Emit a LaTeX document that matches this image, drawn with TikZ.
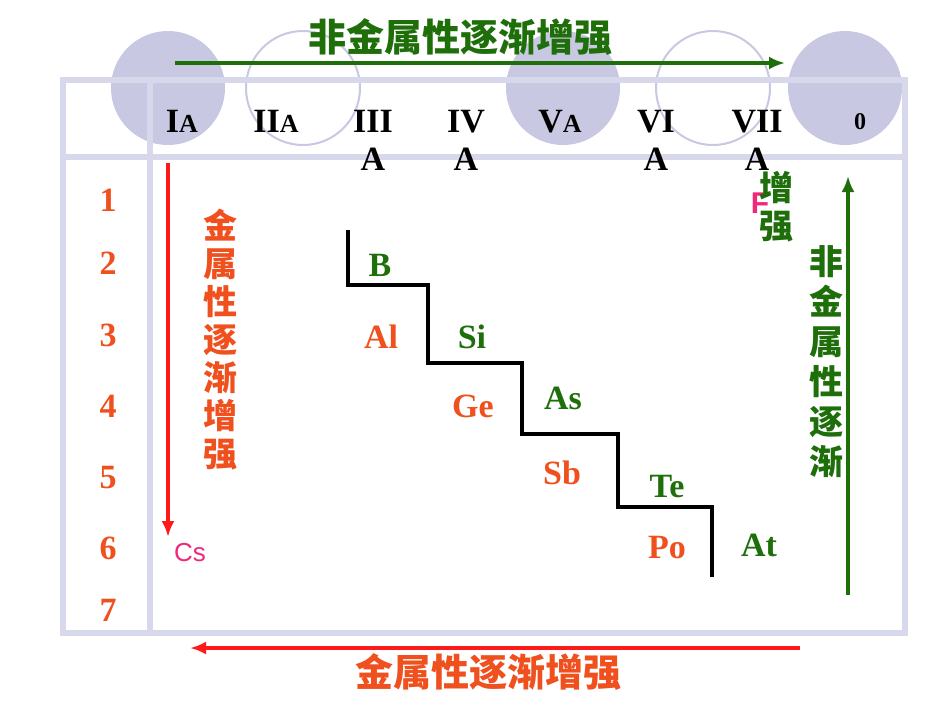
\documentclass[tikz,border=0pt]{standalone}
\usepackage{fontspec}
\setmainfont{Liberation Serif}
\newfontfamily\cjk{Noto Sans CJK SC}
\newfontfamily\arial{Liberation Sans}
\usetikzlibrary{arrows.meta}
\begin{document}
\begin{tikzpicture}[x=1pt,y=-1pt,
  circf/.style={fill=lav,draw=none},
  circo/.style={draw=lav,line width=2pt},
  frame/.style={draw=lavl,line width=6pt},
  hdr/.style={font=\bfseries\fontsize{34}{38}\selectfont,align=center,anchor=north,inner sep=0pt},
  rown/.style={font=\bfseries\fontsize{34}{38}\selectfont,text=orng},
  elg/.style={font=\bfseries\fontsize{34}{38}\selectfont,text=grn},
  elo/.style={font=\bfseries\fontsize{34}{38}\selectfont,text=orng},
  cjkg/.style={font=\cjk\bfseries\fontsize{38}{40}\selectfont,text=grn},
  cjkr/.style={font=\cjk\bfseries\fontsize{38}{40}\selectfont,text=orng},
  vcjk/.style={align=center,font=\cjk\bfseries\fontsize{34}{38}\selectfont,inner sep=0pt},
  mag/.style={font=\arial\fontsize{26}{28}\selectfont,text=magc},
  garr/.style={draw=grn,line width=4pt,-{Latex[length=16pt,width=13pt]}},
  rarr/.style={draw=redc,line width=4pt,-{Latex[length=16pt,width=13pt]}},
  stair/.style={draw=black,line width=4pt}]
\definecolor{lav}{HTML}{C8C8E2}
\definecolor{lavl}{HTML}{D8D8EC}
\definecolor{grn}{HTML}{1E6E0A}
\definecolor{orng}{HTML}{F0501E}
\definecolor{redc}{HTML}{FF1A1A}
\definecolor{magc}{HTML}{F0287A}
\newcommand\smA{{\fontsize{26}{28}\selectfont A}}
\useasboundingbox (0,0) rectangle (950,713);
\fill[white] (0,0) rectangle (950,713);
% circles
\fill[circf] (168,88) circle (57);
\fill[circf] (563,88) circle (57);
\fill[circf] (845,88) circle (57);
\draw[circo] (303,88) circle (57);
\draw[circo] (713,88) circle (57);
% frame
\draw[frame] (63,80) rectangle (905,633);
\draw[frame] (63,157) -- (905,157);
\draw[frame] (150,80) -- (150,633);
% top arrow
\coordinate (ta) at (175,63); \coordinate (tb) at (785,63);
\draw[garr] (ta) -- (tb);
\node[cjkg] (tt) at (460,37) {非金属性逐渐增强};
% headers
\node[hdr] (h1) at (182,110) {I\smA};
\node[hdr] (h2) at (276,110) {II\smA};
\node[hdr] (h3) at (373,110) {III\\A};
\node[hdr] (h4) at (466,110) {IV\\A};
\node[hdr] (h5) at (560,110) {V\smA};
\node[hdr] (h6) at (656,110) {VI\\A};
\node[hdr] (h7) at (757,110) {VII\\A};
\node[hdr,font=\bfseries\fontsize{24}{26}\selectfont] (h8) at (860,113) {0};
% row numbers
\foreach \n/\y in {1/200,2/263,3/335,4/406,5/478,6/548,7/610}
  \node[rown] (r\n) at (108,\y) {\n};
% left red arrow
\coordinate (la) at (168,163); \coordinate (lb) at (168,537);
\draw[rarr] (la) -- (lb);
\node[vcjk,text=orng] (lt) at (220,340) {金\\属\\性\\逐\\渐\\增\\强};
\node[mag] (cs) at (190,553) {Cs};
\node[mag,font=\arial\bfseries\fontsize{30}{32}\selectfont] (f) at (760,203) {F};
\node[vcjk,text=grn] (zq) at (776,207) {增\\强};
\node[vcjk,text=grn,font=\cjk\bfseries\fontsize{34}{40}\selectfont] (rt) at (826,362) {非\\金\\属\\性\\逐\\渐};
\coordinate (ra) at (848,595); \coordinate (rb) at (848,176);
\draw[garr] (ra) -- (rb);
% staircase
\draw[stair] (348,230) -- (348,285) -- (428,285) -- (428,363) -- (522,363) -- (522,434) -- (618,434) -- (618,507) -- (712,507) -- (712,577);
% elements
\node[elg] (B) at (380,265) {B};
\node[elo] (Al) at (381,337) {Al};
\node[elg] (Si) at (472,337) {Si};
\node[elo] (Ge) at (473,406) {Ge};
\node[elg] (As) at (563,398) {As};
\node[elo] (Sb) at (562,473) {Sb};
\node[elg] (Te) at (667,487) {Te};
\node[elo] (Po) at (667,548) {Po};
\node[elg] (At) at (759,545) {At};
% bottom arrow
\coordinate (ba) at (800,648); \coordinate (bb) at (190,648);
\draw[rarr] (ba) -- (bb);
\node[cjkr] (bt) at (488,672) {金属性逐渐增强};
\end{tikzpicture}
\end{document}
